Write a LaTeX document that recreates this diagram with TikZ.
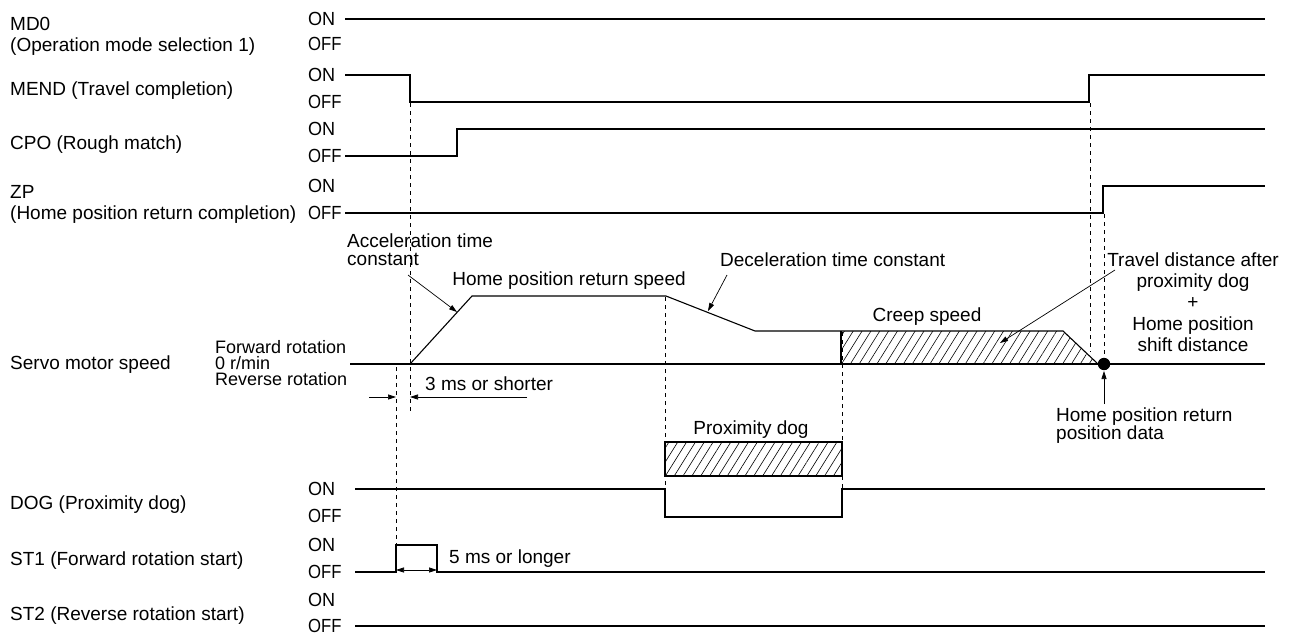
\documentclass[tikz,border=0pt]{standalone}
\usepackage{fontspec}
\setmainfont{Liberation Sans}
\usetikzlibrary{arrows.meta,patterns.meta}
\begin{document}
\begin{tikzpicture}[x=1pt,y=-1pt,
  sig/.style={line width=1.1pt, line join=miter},
  dsh/.style={line width=0.7pt, dash pattern=on 4pt off 4pt},
  txt/.style={anchor=base west, inner sep=0pt, yshift=-6.8pt, font=\fontsize{19}{22}\selectfont},
  stxt/.style={anchor=base west, inner sep=0pt, yshift=-6.4pt, font=\fontsize{18}{20}\selectfont},
  ctxt/.style={anchor=base, inner sep=0pt, yshift=-6.8pt, font=\fontsize{19}{22}\selectfont},
  ann/.style={line width=0.7pt, -{Triangle[length=8pt,width=5pt]}},
  dbl/.style={line width=0.7pt, {Triangle[length=8pt,width=5pt]}-{Triangle[length=8pt,width=5pt]}},
  hatch/.style={pattern={Lines[angle=58,distance=7.5pt,line width=0.6pt]}}
]
\useasboundingbox (0,0) rectangle (1295,635);

% ---------- left labels ----------
\node[txt] (lmd0) at (10,24) {MD0};
\node[txt] (lmd0b) at (10,45) {(Operation mode selection 1)};
\node[txt] (lmend) at (10,89) {MEND (Travel completion)};
\node[txt] (lcpo) at (10,143) {CPO (Rough match)};
\node[txt] (lzp) at (10,192) {ZP};
\node[txt] (lzpb) at (10,213) {(Home position return completion)};
\node[txt] (lsrv) at (10,363) {Servo motor speed};
\node[txt] (ldog) at (10,503) {DOG (Proximity dog)};
\node[txt] (lst1) at (10,559) {ST1 (Forward rotation start)};
\node[txt] (lst2) at (10,614) {ST2 (Reverse rotation start)};

% ---------- ON / OFF labels ----------
\foreach \n/\y in {a/19,b/75,c/129,d/186,e/489,f/545,g/600}
  \node[txt] (on\n) at (308,\y) {\scalebox{0.95}[1]{ON}};
\foreach \n/\y in {a/44,b/102,c/156,d/213,e/516,f/572,g/626}
  \node[txt] (off\n) at (308,\y) {\scalebox{0.88}[1]{OFF}};

% speed labels
\node[stxt] (lfwd) at (215,347) {Forward rotation};
\node[stxt] (lzero) at (215,363) {0 r/min};
\node[stxt] (lrev) at (215,379) {Reverse rotation};

% ---------- signals ----------
\draw[sig] (345,19) -- (1265,19);
\draw[sig] (345,75) -- (410,75) -- (410,102) -- (1089,102) -- (1089,75) -- (1265,75);
\draw[sig] (345,156) -- (457,156) -- (457,129) -- (1265,129);
\draw[sig] (345,213) -- (1103,213) -- (1103,186) -- (1265,186);
\draw[sig] (355,489) -- (665,489) -- (665,517) -- (842,517) -- (842,489) -- (1265,489);
\draw[sig] (355,572) -- (396,572) -- (396,545) -- (437,545) -- (437,572) -- (1265,572);
\draw[sig] (355,626) -- (1265,626);

% ---------- speed ----------
\fill[hatch] (841,364) -- (841,331) -- (1063,331) -- (1098,364) -- cycle;
\draw[sig] (350,364) -- (1265,364);
\draw[sig] (410,364) -- (472,296) -- (666,296) -- (755,331) -- (1063,331) -- (1098,364);
\draw[sig] (841,331) -- (841,364);
\fill (1104,364) circle (6.2);
\coordinate (dot) at (1104,371);

% proximity dog box
\draw[sig, hatch] (665,442) rectangle (842,476);
\node[ctxt] (pdog) at (751,428) {Proximity dog};

% ---------- dashed verticals ----------
\draw[dsh] (410,103) -- (410,412);
\draw[dsh] (396,367) -- (396,545);
\draw[dsh] (665,297) -- (665,489);
\draw[dsh] (842,332) -- (842,489);
\draw[dsh] (1090,103) -- (1090,352);
\draw[dsh] (1104,214) -- (1104,357);

% ---------- annotations ----------
\node[txt] (acc1) at (347,241) {Acceleration time};
\node[txt] (acc2) at (347,259) {constant};
\draw[ann] (408,275) -- (457,312);

\node[ctxt] (hprs) at (569,279) {Home position return speed};

\node[txt] (dec) at (720,260) {Deceleration time constant};
\draw[ann] (727,275) -- (708,311);

\node[ctxt] (creep) at (927,315) {Creep speed};

\node[ctxt] (tr1) at (1193,260) {Travel distance after};
\node[ctxt] (tr2) at (1193,281) {proximity dog};
\node[ctxt] (tr3) at (1193,302) {+};
\node[ctxt] (tr4) at (1193,324) {Home position};
\node[ctxt] (tr5) at (1193,345) {shift distance};
\draw[ann] (1115,270) -- (1000,343);

\node[txt] (hpd1) at (1056,415) {Home position return};
\node[txt] (hpd2) at (1056,433) {position data};
\draw[ann] (1104,404) -- (dot);

% 3 ms
\draw[ann] (369,397) -- (396,397);
\draw[ann] (527,397) -- (410,397);
\node[txt] (ms3) at (425,384) {3 ms or shorter};

% 5 ms
\draw[dbl] (396,570) -- (437,570);
\node[txt] (ms5) at (449,557) {5 ms or longer};
\end{tikzpicture}
\end{document}
